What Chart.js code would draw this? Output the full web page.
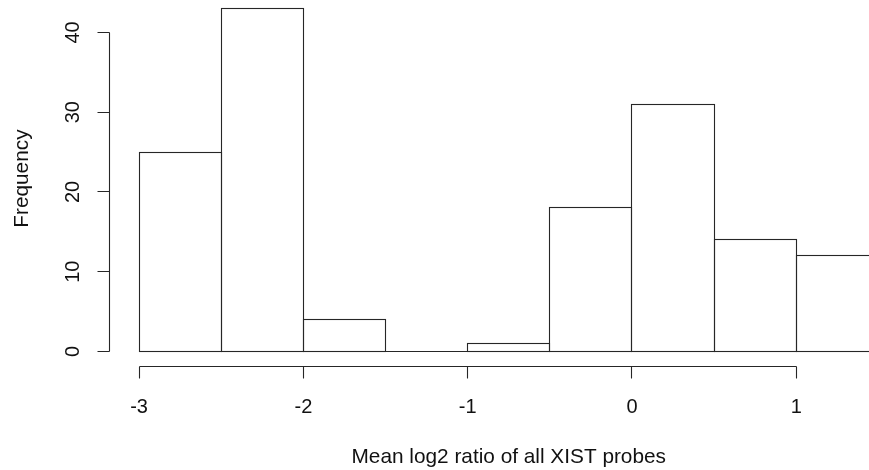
<!DOCTYPE html>
<html>
<head>
<meta charset="utf-8">
<script src="https://cdn.jsdelivr.net/npm/chart.js@4/dist/chart.umd.min.js"></script>
<style>
  html, body { margin: 0; padding: 0; background: #fff; overflow: hidden; width: 869px; height: 470px; }
  canvas { display: block; }
</style>
</head>
<body>
<canvas id="hist" width="910" height="470"></canvas>
<script>
// histogram bins (left edges), width 0.5
const binStarts = [-3, -2.5, -2, -1.5, -1, -0.5, 0, 0.5, 1];
const binWidth = 0.5;
const counts = [25, 43, 4, 0, 1, 18, 31, 14, 12];

const xTicks = [-3, -2, -1, 0, 1];
const yTicks = [0, 10, 20, 30, 40];

const xTitle = 'Mean log2 ratio of all XIST probes';
const yTitle = 'Frequency';

const lineColor = '#262626';
const textColor = '#111';
const tickFont = '20px "Liberation Sans", Arial, sans-serif';
const titleFont = '20.8px "Liberation Sans", Arial, sans-serif';

// pixel snap so 1px lines stay crisp
const snap = v => Math.floor(v) + 0.5;

// R style base graphics axes + bar outlines
const rStyle = {
    id: 'rStyle',
    afterDatasetsDraw(chart) {
        const { ctx, chartArea, scales: { x, y } } = chart;
        ctx.save();
        ctx.strokeStyle = lineColor;
        ctx.lineWidth = 1.1;

        // outlines of every bin, including the empty one
        chart.getDatasetMeta(0).data.forEach(bar => {
            const p = bar.getProps(['x', 'y', 'base', 'width'], true);
            const l = snap(p.x - p.width / 2), r = snap(p.x + p.width / 2);
            const t = snap(p.y), b = snap(p.base);
            ctx.strokeRect(l, t, r - l, b - t);
        });

        // y axis
        const axX = snap(chartArea.left);
        ctx.beginPath();
        ctx.moveTo(axX, snap(y.getPixelForValue(yTicks[0])));
        ctx.lineTo(axX, snap(y.getPixelForValue(yTicks[yTicks.length - 1])));
        yTicks.forEach(v => {
            const py = snap(y.getPixelForValue(v));
            ctx.moveTo(axX, py);
            ctx.lineTo(axX - 12, py);
        });
        ctx.stroke();

        // x axis
        const axY = snap(y.getPixelForValue(y.min) + 1.5);
        ctx.beginPath();
        ctx.moveTo(snap(x.getPixelForValue(xTicks[0])), axY);
        ctx.lineTo(snap(x.getPixelForValue(xTicks[xTicks.length - 1])), axY);
        xTicks.forEach(v => {
            const px = snap(x.getPixelForValue(v));
            ctx.moveTo(px, axY);
            ctx.lineTo(px, axY + 12);
        });
        ctx.stroke();

        ctx.fillStyle = textColor;
        ctx.textAlign = 'center';
        ctx.textBaseline = 'alphabetic';

        ctx.font = tickFont;
        xTicks.forEach(v => {
            ctx.fillText(String(v), x.getPixelForValue(v), axY + 46.5);
        });
        yTicks.forEach(v => {
            ctx.save();
            ctx.translate(axX - 30.5, y.getPixelForValue(v));
            ctx.rotate(-Math.PI / 2);
            ctx.fillText(String(v), 0, 0);
            ctx.restore();
        });

        ctx.font = titleFont;
        ctx.fillText(xTitle, (chartArea.left + chartArea.right) / 2, axY + 96);

        ctx.save();
        ctx.translate(27.5, (chartArea.top + chartArea.bottom) / 2 - 4);
        ctx.rotate(-Math.PI / 2);
        ctx.fillText(yTitle, 0, 0);
        ctx.restore();

        ctx.restore();
    }
};

new Chart(document.getElementById('hist'), {
    type: 'bar',
    data: {
        datasets: [{
            data: binStarts.map((s, i) => ({ x: s + binWidth / 2, y: counts[i] })),
            backgroundColor: '#ffffff',
            borderWidth: 0,
            barPercentage: 1,
            categoryPercentage: 1
        }]
    },
    options: {
        responsive: false,
        animation: false,
        devicePixelRatio: 1,
        layout: { padding: { left: 109.5, right: 2, top: 0, bottom: 104.8 } },
        plugins: { legend: { display: false }, tooltip: { enabled: false } },
        scales: {
            x: {
                type: 'linear',
                offset: false,
                min: -3.18,
                max: 1.68,
                display: false,
                afterBuildTicks: s => { s.ticks = xTicks.map(v => ({ value: v })); }
            },
            y: {
                type: 'linear',
                min: -1.72,
                max: 44.075,
                display: false
            }
        }
    },
    plugins: [rStyle]
});
</script>
</body>
</html>
